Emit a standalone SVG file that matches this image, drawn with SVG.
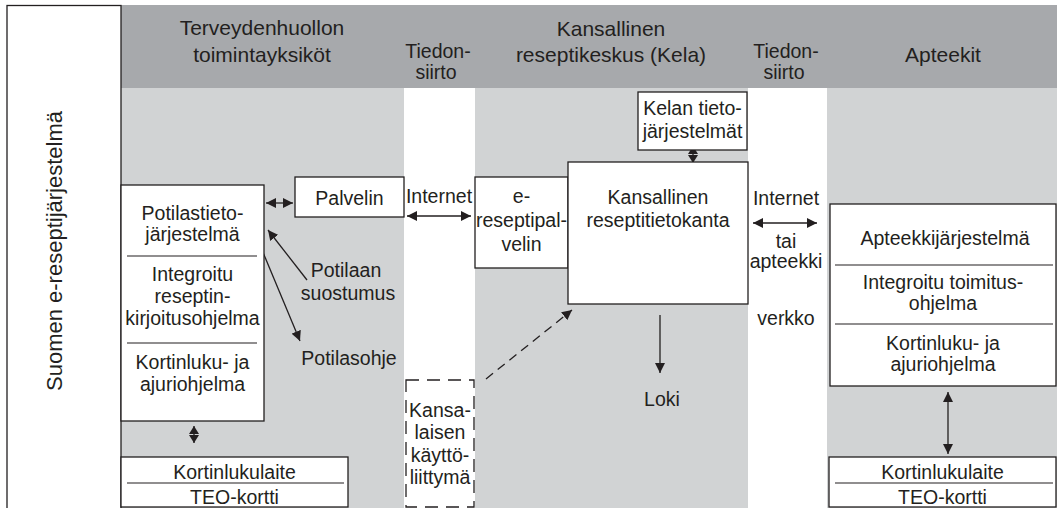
<svg xmlns="http://www.w3.org/2000/svg" width="1057" height="508" viewBox="0 0 1057 508">
  <style>
    text { font-family: "Liberation Sans", Arial, sans-serif; fill: #231f20; text-anchor: middle; }
    .hdr { font-size: 21px; }
    .sub { font-size: 19.5px; }
    .body { font-size: 19.5px; }
    .side { font-size: 22px; }
    .box { fill: #ffffff; stroke: #231f20; stroke-width: 1.3; }
    .dash { fill: #ffffff; stroke: #231f20; stroke-width: 1.3; stroke-dasharray: 13 8; }
    .sep { stroke: #231f20; stroke-width: 1.2; }
    .link { fill: none; stroke: #231f20; stroke-width: 1.3; }
    .dlink { fill: none; stroke: #231f20; stroke-width: 1.3; stroke-dasharray: 9 6; }
  </style>
  <defs>
    <marker id="head" markerUnits="userSpaceOnUse" viewBox="0 0 10 10" markerWidth="10" markerHeight="10" refX="10" refY="5" orient="auto-start-reverse">
      <path d="M0,0 L10,5 L0,10 z" fill="#231f20"/>
    </marker>
    <marker id="headS" markerUnits="userSpaceOnUse" viewBox="0 0 8 10" markerWidth="8" markerHeight="10" refX="8" refY="5" orient="auto-start-reverse">
      <path d="M0,0 L8,5 L0,10 z" fill="#231f20"/>
    </marker>
  </defs>

  <!-- page background -->
  <rect x="0" y="0" width="1057" height="508" fill="#ffffff"/>

  <!-- column bands -->
  <g id="bands">
    <rect x="121" y="5" width="936" height="83" fill="#a7a9ac"/>
    <rect x="121" y="88" width="283" height="420" fill="#d1d3d4"/>
    <rect x="475" y="88" width="273" height="420" fill="#d1d3d4"/>
    <rect x="827" y="88" width="230" height="420" fill="#d1d3d4"/>
  </g>

  <!-- column headings -->
  <g id="headers">
    <text class="hdr" x="262" y="35">Terveydenhuollon</text>
    <text class="hdr" x="262" y="62">toimintayksiköt</text>
    <text class="sub" x="438" y="58">Tiedon-</text>
    <text class="sub" x="436" y="79">siirto</text>
    <text class="hdr" x="611" y="36">Kansallinen</text>
    <text class="hdr" x="611" y="62">reseptikeskus (Kela)</text>
    <text class="sub" x="786" y="58">Tiedon-</text>
    <text class="sub" x="784" y="79">siirto</text>
    <text class="hdr" x="943" y="62">Apteekit</text>
  </g>

  <!-- side panel with system title -->
  <g id="system-title">
    <rect x="7" y="5.5" width="114" height="510" class="box"/>
    <text class="side" transform="translate(62 251) rotate(-90)">Suomen e-reseptijärjestelmä</text>
  </g>

  <!-- connectors -->
  <g id="connectors">
    <line class="link" x1="266" y1="203" x2="293" y2="203" marker-start="url(#head)" marker-end="url(#head)"/>
    <line class="link" x1="407" y1="216" x2="471" y2="216" marker-start="url(#head)" marker-end="url(#head)"/>
    <line class="link" x1="753" y1="223" x2="817" y2="223" marker-start="url(#head)" marker-end="url(#head)"/>
    <line class="link" x1="693" y1="146" x2="693" y2="163" marker-start="url(#headS)" marker-end="url(#headS)"/>
    <line class="link" x1="194" y1="426" x2="194" y2="443" marker-start="url(#headS)" marker-end="url(#headS)"/>
    <line class="link" x1="948" y1="392" x2="948" y2="454" marker-start="url(#head)" marker-end="url(#head)"/>
    <line class="link" x1="307" y1="280" x2="268" y2="230" marker-end="url(#head)"/>
    <line class="link" x1="257" y1="238" x2="300" y2="341" marker-end="url(#head)"/>
    <line class="link" x1="660" y1="315" x2="660" y2="373" marker-end="url(#head)"/>
    <line class="dlink" x1="486" y1="379" x2="572" y2="310" marker-end="url(#head)"/>
  </g>

  <!-- patient information system stack -->
  <g id="potilastietojarjestelma">
    <rect x="121" y="185" width="143" height="236" class="box"/>
    <line class="sep" x1="127" y1="256" x2="257" y2="256"/>
    <line class="sep" x1="127" y1="343" x2="257" y2="343"/>
    <text class="body" x="192.5" y="220">Potilastieto-</text>
    <text class="body" x="192.5" y="241">järjestelmä</text>
    <text class="body" x="192.5" y="281">Integroitu</text>
    <text class="body" x="192.5" y="303">reseptin-</text>
    <text class="body" x="192.5" y="325">kirjoitusohjelma</text>
    <text class="body" x="192.5" y="369">Kortinluku- ja</text>
    <text class="body" x="192.5" y="391">ajuriohjelma</text>
  </g>

  <g id="palvelin">
    <rect x="295" y="177" width="109" height="40" class="box"/>
    <text class="body" x="349.5" y="205">Palvelin</text>
  </g>

  <g id="e-reseptipalvelin">
    <rect x="475" y="177" width="93" height="91" class="box"/>
    <text class="body" x="521.5" y="203">e-</text>
    <text class="body" x="521.5" y="227">reseptipal-</text>
    <text class="body" x="521.5" y="251">velin</text>
  </g>

  <g id="reseptitietokanta">
    <rect x="568" y="162" width="180" height="142" class="box"/>
    <text class="body" x="658" y="204">Kansallinen</text>
    <text class="body" x="658" y="227">reseptitietokanta</text>
  </g>

  <g id="kelan-tietojarjestelmat">
    <rect x="638" y="92" width="109" height="58" class="box"/>
    <text class="body" x="692.5" y="115">Kelan tieto-</text>
    <text class="body" x="692.5" y="138">järjestelmät</text>
  </g>

  <g id="kansalaisen-kayttoliittyma">
    <rect x="406" y="380" width="68" height="127" class="dash"/>
    <text class="body" x="440" y="417">Kansa-</text>
    <text class="body" x="440" y="439">laisen</text>
    <text class="body" x="440" y="462">käyttö-</text>
    <text class="body" x="440" y="484">liittymä</text>
  </g>

  <g id="apteekkijarjestelma">
    <rect x="830" y="204" width="226" height="182" class="box"/>
    <line class="sep" x1="835" y1="265" x2="1053" y2="265"/>
    <line class="sep" x1="835" y1="324" x2="1053" y2="324"/>
    <text class="body" x="945" y="245">Apteekkijärjestelmä</text>
    <text class="body" x="943" y="289">Integroitu toimitus-</text>
    <text class="body" x="943" y="310">ohjelma</text>
    <text class="body" x="943" y="350">Kortinluku- ja</text>
    <text class="body" x="943" y="371">ajuriohjelma</text>
  </g>

  <g id="kortinlukulaite-terveydenhuolto">
    <rect x="121" y="457" width="227" height="50" class="box"/>
    <line class="sep" x1="127" y1="483" x2="344" y2="483"/>
    <text class="body" x="234.5" y="479">Kortinlukulaite</text>
    <text class="body" x="234.5" y="504">TEO-kortti</text>
  </g>

  <g id="kortinlukulaite-apteekki">
    <rect x="829" y="457" width="227" height="50" class="box"/>
    <line class="sep" x1="835" y1="483" x2="1053" y2="483"/>
    <text class="body" x="942.5" y="479">Kortinlukulaite</text>
    <text class="body" x="942.5" y="504">TEO-kortti</text>
  </g>

  <!-- free labels -->
  <g id="labels">
    <text class="body" x="439" y="203">Internet</text>
    <text class="body" x="786" y="205">Internet</text>
    <text class="body" x="786" y="248">tai</text>
    <text class="body" x="786" y="268">apteekki</text>
    <text class="body" x="786" y="325">verkko</text>
    <text class="body" x="346" y="277">Potilaan</text>
    <text class="body" x="348" y="300">suostumus</text>
    <text class="body" x="349" y="365">Potilasohje</text>
    <text class="body" x="662" y="406">Loki</text>
  </g>
</svg>
